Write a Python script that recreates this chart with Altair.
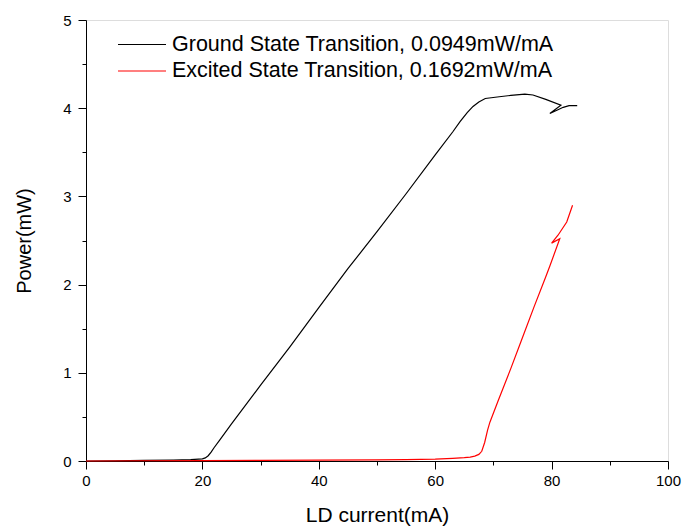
import altair as alt
import pandas as pd

ground_name = "Ground State Transition, 0.0949mW/mA"
excited_name = "Excited State Transition, 0.1692mW/mA"

ground_x = [0, 5, 10, 15, 18, 20, 20.5, 21, 21.5, 22, 23, 25, 30, 35, 40, 45, 50, 55, 60, 63, 64.3,
            65.5, 66.5, 67.5, 68.6, 71, 73, 75.4, 76.8, 79, 81.6, 79.7, 81, 82, 83, 84.4]
ground_y = [0, 0.003, 0.006, 0.01, 0.015, 0.025, 0.035, 0.06, 0.1, 0.15, 0.24, 0.42, 0.86, 1.29,
            1.74, 2.18, 2.6, 3.03, 3.47, 3.73, 3.85, 3.95, 4.02, 4.07, 4.11, 4.13, 4.145, 4.16,
            4.15, 4.1, 4.035, 3.94, 3.98, 4.01, 4.03, 4.03]

excited_x = [0, 10, 20, 30, 40, 50, 55, 60, 63, 65, 66, 66.8, 67.5, 68, 68.5, 69, 69.4, 70.8, 73,
             75, 77, 79, 79.7, 81.4, 80.0, 81.1, 82.6, 83.6]
excited_y = [0, 0.003, 0.005, 0.007, 0.01, 0.013, 0.016, 0.022, 0.03, 0.038, 0.045, 0.055, 0.075,
             0.11, 0.21, 0.35, 0.44, 0.68, 1.05, 1.4, 1.75, 2.09, 2.21, 2.52, 2.47, 2.56, 2.71, 2.9]

x_ticks = [0, 10, 20, 30, 40, 50, 60, 70, 80, 90, 100]
y_ticks = [0, 0.5, 1, 1.5, 2, 2.5, 3, 3.5, 4, 4.5, 5]

rows = []
for i, (a, b) in enumerate(zip(ground_x, ground_y)):
    rows.append({"current": a, "power": b, "series": ground_name, "idx": i})
for i, (a, b) in enumerate(zip(excited_x, excited_y)):
    rows.append({"current": a, "power": b, "series": excited_name, "idx": i})
df = pd.DataFrame(rows)

FONT = "Liberation Sans"

x_axis = alt.Axis(
    values=x_ticks,
    labelExpr="datum.value % 20 === 0 ? datum.label : ''",
    tickSize={"condition": {"test": "datum.value % 20 === 0", "value": 8}, "value": 4},
    grid=False, domainColor="black", tickColor="black", labelColor="black",
    titleColor="black", labelFontSize=15, titleFontSize=21, labelFont=FONT,
    titleFont=FONT, titleFontWeight="normal", labelPadding=4, titlePadding=16,
    labelFlush=False, labelOverlap=False,
)
y_axis = alt.Axis(
    values=y_ticks,
    labelExpr="datum.value % 1 === 0 ? format(datum.value, 'd') : ''",
    tickSize={"condition": {"test": "datum.value % 1 === 0", "value": 8}, "value": 4},
    grid=False, domainColor="black", tickColor="black", labelColor="black",
    titleColor="black", labelFontSize=15, titleFontSize=20, labelFont=FONT,
    titleFont=FONT, titleFontWeight="normal", labelPadding=7, titlePadding=28,
    labelFlush=False, labelOverlap=False,
)

chart = alt.Chart(df).mark_line(strokeWidth=1.2, interpolate="linear").encode(
    x=alt.X("current:Q", title="LD current(mA)", scale=alt.Scale(domain=[0, 100], nice=False, zero=False), axis=x_axis),
    y=alt.Y("power:Q", title="Power(mW)", scale=alt.Scale(domain=[0, 5], nice=False), axis=y_axis),
    color=alt.Color(
        "series:N",
        scale=alt.Scale(domain=[ground_name, excited_name], range=["#000000", "#ff0000"]),
        legend=alt.Legend(
            orient="none", legendX=31, legendY=12, title=None, symbolType="stroke",
            symbolSize=2304, symbolStrokeWidth=1.2, labelFontSize=21.5, labelFont=FONT,
            labelColor="black", labelOffset=5, clipHeight=25, rowPadding=1.5, padding=0,
            labelLimit=700,
        ),
    ),
    order=alt.Order("idx:Q"),
).properties(
    width=582, height=441,
    padding={"left": 86, "top": 20, "right": 15, "bottom": 66},
    autosize=alt.AutoSizeParams(type="none"),
    background="white",
).configure_view(strokeWidth=0).configure(font=FONT)

chart.save("out.html", embed_options={"renderer": "svg", "actions": False})
